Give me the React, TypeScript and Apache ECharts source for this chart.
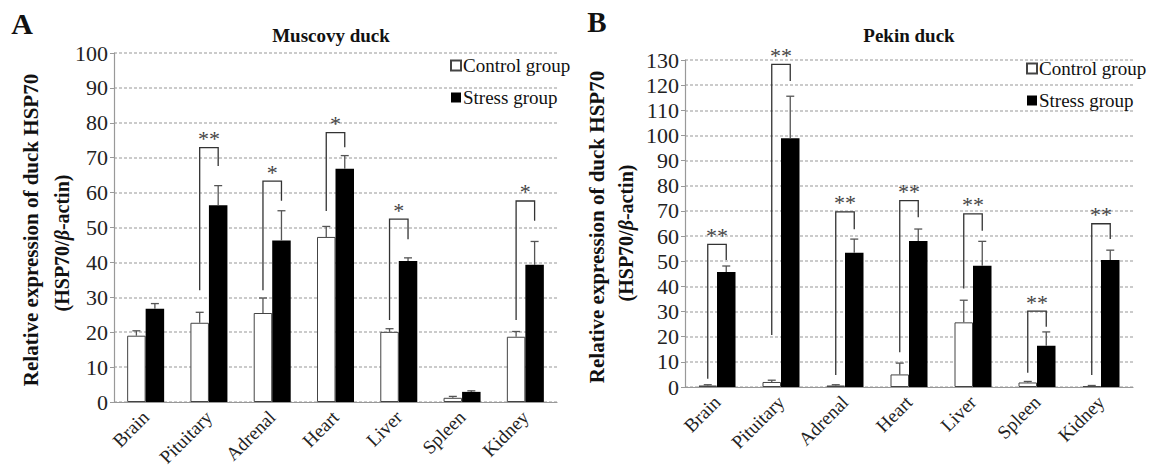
import React, { useEffect, useRef } from "react";
import * as echarts from "echarts";

const categories = ["Brain", "Pituitary", "Adrenal", "Heart", "Liver", "Spleen", "Kidney"];
const seriesNames = ["Control group", "Stress group"];

// Muscovy duck (panel A)
const muscovyControl = [19.0, 22.7, 25.5, 47.3, 20.1, 1.2, 18.7];
const muscovyControlErr = [20.4, 25.7, 29.8, 50.3, 21.0, 1.6, 20.2];
const muscovyStress = [26.7, 56.4, 46.3, 66.8, 40.4, 2.9, 39.3];
const muscovyStressErr = [28.2, 62.0, 54.8, 70.6, 41.3, 3.2, 46.0];
const muscovySigIndex = [1, 2, 3, 4, 6];
const muscovySigTop = [72.9, 63.3, 77.2, 52.4, 57.6];
const muscovySigLeftBottom = [32.0, 32.0, 54.7, 23.5, 23.5];
const muscovySigRightBottom = [67.6, 57.7, 73.0, 46.6, 51.9];
const muscovySigMark = ["**", "*", "*", "*", "*"];

// Pekin duck (panel B)
const pekinControl = [0.6, 2.0, 0.6, 5.0, 25.7, 1.8, 0.4];
const pekinControlErr = [0.9, 2.7, 0.9, 9.5, 34.5, 2.2, 0.6];
const pekinStress = [45.7, 98.9, 53.4, 58.0, 48.2, 16.4, 50.5];
const pekinStressErr = [48.1, 115.6, 58.8, 62.8, 57.9, 21.9, 54.4];
const pekinSigIndex = [0, 1, 2, 3, 4, 5, 6];
const pekinSigTop = [56.7, 128.3, 69.6, 74.1, 68.8, 30.2, 64.9];
const pekinSigLeftBottom = [3.3, 20.7, 4.8, 13.8, 39.2, 5.7, 4.8];
const pekinSigRightBottom = [50.5, 121.7, 62.7, 67.5, 62.1, 24.0, 58.8];
const pekinSigMark = ["**", "**", "**", "**", "**", "**", "**"];

const FONT = "Liberation Serif, Times New Roman, serif";
const BAR_W = 18.5;

function errorSeries(axis: number, values: number[], errs: number[], side: number) {
  return {
    type: "custom",
    xAxisIndex: axis,
    yAxisIndex: axis,
    silent: true,
    z: 5,
    data: values.map((v, i) => [i, v, errs[i]]),
    renderItem: (params: any, api: any) => {
      const base = api.coord([api.value(0), api.value(1)]);
      const top = api.coord([api.value(0), api.value(2)]);
      const x = base[0] + side * BAR_W / 2;
      const st = { stroke: "#555", lineWidth: 1.3 };
      return {
        type: "group",
        children: [
          { type: "line", shape: { x1: x, y1: base[1], x2: x, y2: top[1] }, style: st },
          { type: "line", shape: { x1: x - 4, y1: top[1], x2: x + 4, y2: top[1] }, style: st },
        ],
      };
    },
  };
}

function sigSeries(axis: number, idx: number[], top: number[], lb: number[], rb: number[], marks: string[]) {
  return {
    type: "custom",
    xAxisIndex: axis,
    yAxisIndex: axis,
    silent: true,
    z: 6,
    data: idx.map((c, i) => [c, top[i], lb[i], rb[i], i]),
    renderItem: (params: any, api: any) => {
      const c = api.value(0);
      const t = api.coord([c, api.value(1)]);
      const l = api.coord([c, api.value(2)]);
      const r = api.coord([c, api.value(3)]);
      const xl = t[0] - BAR_W / 2;
      const xr = t[0] + BAR_W / 2;
      const mark = marks[api.value(4)];
      return {
        type: "group",
        children: [
          {
            type: "polyline",
            shape: { points: [[xl, l[1]], [xl, t[1]], [xr, t[1]], [xr, r[1]]] },
            style: { stroke: "#333", lineWidth: 1.3, fill: "none" },
          },
          {
            type: "text",
            x: t[0],
            y: t[1] + 2,
            style: {
              text: mark,
              fill: "#444",
              fontFamily: FONT,
              fontSize: 22,
              align: "center",
              verticalAlign: "bottom",
            },
          },
        ],
      };
    },
  };
}

function barSeries(axis: number, name: string, values: number[], stress: boolean) {
  return {
    type: "bar",
    name,
    xAxisIndex: axis,
    yAxisIndex: axis,
    barWidth: BAR_W,
    barGap: "0%",
    data: values,
    itemStyle: stress
      ? { color: "#000", borderColor: "#000", borderWidth: 0 }
      : { color: "#fff", borderColor: "#444", borderWidth: 1 },
  };
}

function yAxis(grid: number, max: number) {
  return {
    type: "value",
    gridIndex: grid,
    min: 0,
    max,
    interval: 10,
    axisLine: { show: true, lineStyle: { color: "#999", width: 1.2 } },
    axisTick: { show: true, length: 4, lineStyle: { color: "#999" } },
    axisLabel: { color: "#222", fontFamily: FONT, fontSize: 22, margin: 6 },
    splitLine: { show: true, lineStyle: { color: "#bbb", type: [3, 2], width: 1.5 } },
  };
}

function xAxis(grid: number) {
  return {
    type: "category",
    gridIndex: grid,
    data: categories,
    axisLine: { show: true, lineStyle: { color: "#999", width: 1.2 } },
    axisTick: { show: false },
    axisLabel: { color: "#222", fontFamily: FONT, fontSize: 19, rotate: 45, margin: 12, interval: 0 },
  };
}

function legend(left: number, top: number) {
  return {
    left,
    top,
    orient: "vertical",
    data: seriesNames,
    icon: "rect",
    itemWidth: 10,
    itemHeight: 10,
    itemGap: 13,
    padding: 0,
    selectedMode: false,
    textStyle: { color: "#111", fontFamily: FONT, fontSize: 19, padding: [0, 0, 0, -3] },
  };
}

export default function App() {
  const ref = useRef<HTMLDivElement>(null);
  useEffect(() => {
    if (!ref.current) return;
    const chart = echarts.init(ref.current, undefined, { renderer: "svg" });
    const boldStyle = (text: string, size: number) => ({
      text,
      fontFamily: FONT,
      fontWeight: "bold",
      fontSize: size,
      fill: "#111",
      align: "center",
      verticalAlign: "middle",
    });
    const nameLine2 = (x: number, y: number) => ({
      type: "text",
      x,
      y,
      rotation: Math.PI / 2,
      style: {
        text: "(HSP70/{i|β}-actin)",
        fontFamily: FONT,
        fontWeight: "bold",
        fontSize: 20,
        fill: "#111",
        align: "center",
        verticalAlign: "middle",
        rich: { i: { fontStyle: "italic", fontWeight: "bold", fontSize: 20, fontFamily: FONT, fill: "#111" } },
      },
    });
    chart.setOption({
      animation: false,
      backgroundColor: "#fff",
      grid: [
        { left: 114, top: 53, width: 443, height: 349 },
        { left: 685, top: 60, width: 448, height: 327 },
      ],
      xAxis: [xAxis(0), xAxis(1)],
      yAxis: [yAxis(0, 100), yAxis(1, 130)],
      legend: [legend(450, 56), legend(1026, 59)],
      series: [
        barSeries(0, seriesNames[0], muscovyControl, false),
        barSeries(0, seriesNames[1], muscovyStress, true),
        errorSeries(0, muscovyControl, muscovyControlErr, -1),
        errorSeries(0, muscovyStress, muscovyStressErr, 1),
        sigSeries(0, muscovySigIndex, muscovySigTop, muscovySigLeftBottom, muscovySigRightBottom, muscovySigMark),
        barSeries(1, seriesNames[0], pekinControl, false),
        barSeries(1, seriesNames[1], pekinStress, true),
        errorSeries(1, pekinControl, pekinControlErr, -1),
        errorSeries(1, pekinStress, pekinStressErr, 1),
        sigSeries(1, pekinSigIndex, pekinSigTop, pekinSigLeftBottom, pekinSigRightBottom, pekinSigMark),
      ],
      graphic: [
        { type: "text", x: 22, y: 23, style: boldStyle("A", 30) },
        { type: "text", x: 597, y: 22, style: boldStyle("B", 29) },
        { type: "text", x: 331, y: 35, style: boldStyle("Muscovy duck", 19) },
        { type: "text", x: 909, y: 35, style: boldStyle("Pekin duck", 19) },
        { type: "text", x: 31, y: 230, rotation: Math.PI / 2, style: boldStyle("Relative expression of duck HSP70", 21) },
        nameLine2(62, 243),
        { type: "text", x: 597, y: 227, rotation: Math.PI / 2, style: boldStyle("Relative expression of duck HSP70", 21) },
        nameLine2(626, 233),
      ],
    });
    return () => chart.dispose();
  }, []);
  return (
    <div
      ref={ref}
      style={{ position: "fixed", left: 0, top: 0, width: 1150, height: 471, background: "#fff" }}
    />
  );
}
